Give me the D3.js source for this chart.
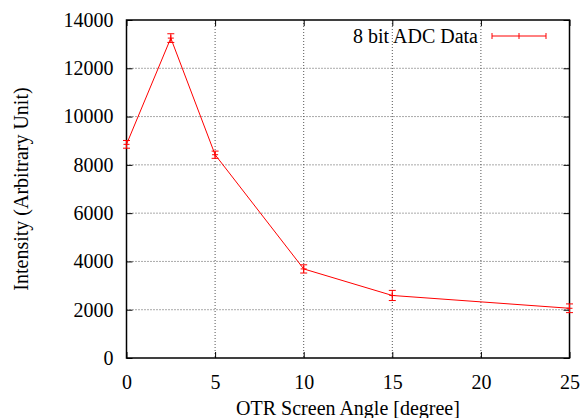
<!DOCTYPE html>
<html>
<head>
<meta charset="utf-8">
<script src="https://cdn.jsdelivr.net/npm/d3@7"></script>
<style>
  body { margin: 0; background: #fff; }
</style>
</head>
<body>
<svg id="chart"></svg>
<script>
(function () {
  'use strict';

  // Data
  const angles = [0, 2.5, 5, 10, 15, 25];
  const intensity = [8850, 13250, 8420, 3690, 2590, 2060];
  const errors = [160, 180, 150, 170, 210, 180];
  const xTicks = [0, 5, 10, 15, 20, 25];
  const yTicks = [0, 2000, 4000, 6000, 8000, 10000, 12000, 14000];
  const seriesName = "8 bit ADC Data";

  const serif = "'Liberation Serif', 'Times New Roman', Times, serif";
  const fontSize = "20px";
  const width = 582, height = 418;
  const margin = { top: 20, right: 12.5, bottom: 60, left: 126.5 };
  const innerW = width - margin.left - margin.right;
  const innerH = height - margin.top - margin.bottom;

  const svg = d3.select("#chart")
    .attr("width", width)
    .attr("height", height)
    .style("font-family", serif);

  const g = svg.append("g")
    .attr("transform", `translate(${margin.left},${margin.top})`);

  const x = d3.scaleLinear().domain([0, 25]).range([0, innerW]);
  const y = d3.scaleLinear().domain([0, 14000]).range([innerH, 0]);

  // grid
  g.append("g").selectAll("line")
    .data(xTicks.slice(1, -1))
    .join("line")
    .attr("x1", d => x(d)).attr("x2", d => x(d))
    .attr("y1", 0).attr("y2", innerH)
    .attr("stroke", "#555").attr("stroke-dasharray", "1,2");
  g.append("g").selectAll("line")
    .data(yTicks.slice(1, -1))
    .join("line")
    .attr("x1", 0).attr("x2", innerW)
    .attr("y1", d => y(d)).attr("y2", d => y(d))
    .attr("stroke", "#555").attr("stroke-dasharray", "1,2");

  // axes, ticks pointing inward, mirrored on top and right
  const tickLen = 6;
  const fmt = d3.format("d");
  const styleAxis = sel => {
    sel.attr("font-family", null).attr("font-size", null);
    sel.select(".domain").remove();
    sel.selectAll(".tick line").attr("stroke", "#000").attr("stroke-width", 1);
    sel.selectAll(".tick text")
      .attr("fill", "#000")
      .style("font-family", serif)
      .style("font-size", fontSize);
  };

  g.append("g")
    .attr("transform", `translate(0,${innerH})`)
    .call(d3.axisBottom(x).tickValues(xTicks).tickFormat(fmt).tickSizeInner(-tickLen).tickPadding(13))
    .call(styleAxis)
    .selectAll(".tick text").attr("dy", "0.9em");

  g.append("g")
    .call(d3.axisTop(x).tickValues(xTicks).tickFormat("").tickSizeInner(-tickLen))
    .call(styleAxis);

  g.append("g")
    .call(d3.axisLeft(y).tickValues(yTicks).tickFormat(fmt).tickSizeInner(-tickLen).tickPadding(13))
    .call(styleAxis);

  g.append("g")
    .attr("transform", `translate(${innerW},0)`)
    .call(d3.axisRight(y).tickValues(yTicks).tickFormat("").tickSizeInner(-tickLen))
    .call(styleAxis);

  // border
  g.append("rect")
    .attr("width", innerW).attr("height", innerH)
    .attr("fill", "none").attr("stroke", "#000").attr("stroke-width", 1.5);

  const red = "#ff0000";
  const data = angles.map((a, i) => ({ a, v: intensity[i], e: errors[i] }));

  g.append("path")
    .datum(data)
    .attr("fill", "none")
    .attr("stroke", red)
    .attr("stroke-width", 1)
    .attr("d", d3.line().x(d => x(d.a)).y(d => y(d.v)));

  // error bars
  const cap = 3.5;
  const eb = g.append("g").attr("stroke", red).attr("stroke-width", 1).attr("fill", "none");
  eb.selectAll("path.err")
    .data(data)
    .join("path")
    .attr("class", "err")
    .attr("d", d => {
      const cx = x(d.a), t = y(d.v + d.e), b = y(d.v - d.e);
      return `M${cx},${t}V${b}M${cx - cap},${t}H${cx + cap}M${cx - cap},${b}H${cx + cap}`;
    });
  eb.selectAll("path.pt")
    .data(data)
    .join("path")
    .attr("class", "pt")
    .attr("d", d => {
      const cx = x(d.a), cy = y(d.v);
      return `M${cx - 3},${cy}H${cx + 3}M${cx},${cy - 3}V${cy + 3}`;
    });

  // legend
  const lg = g.append("g").attr("transform", `translate(0,${36 - margin.top})`);
  lg.append("text")
    .attr("x", 478 - margin.left).attr("y", 0)
    .attr("dy", "0.35em")
    .attr("text-anchor", "end")
    .style("font-family", serif)
    .style("font-size", fontSize)
    .text(seriesName);
  const lx1 = 492 - margin.left, lx2 = 546 - margin.left, lm = (lx1 + lx2) / 2;
  lg.append("path")
    .attr("stroke", red).attr("fill", "none")
    .attr("d", `M${lx1},0H${lx2}M${lx1},-3V3M${lx2},-3V3M${lm},-3V3`);

  // axis titles
  svg.append("text")
    .attr("x", margin.left + innerW / 2).attr("y", 415)
    .attr("text-anchor", "middle")
    .style("font-family", serif)
    .style("font-size", fontSize)
    .text("OTR Screen Angle [degree]");
  svg.append("text")
    .attr("transform", `translate(28,${margin.top + innerH / 2}) rotate(-90)`)
    .attr("text-anchor", "middle")
    .style("font-family", serif)
    .style("font-size", fontSize)
    .text("Intensity (Arbitrary Unit)");
})();
</script>
</body>
</html>
